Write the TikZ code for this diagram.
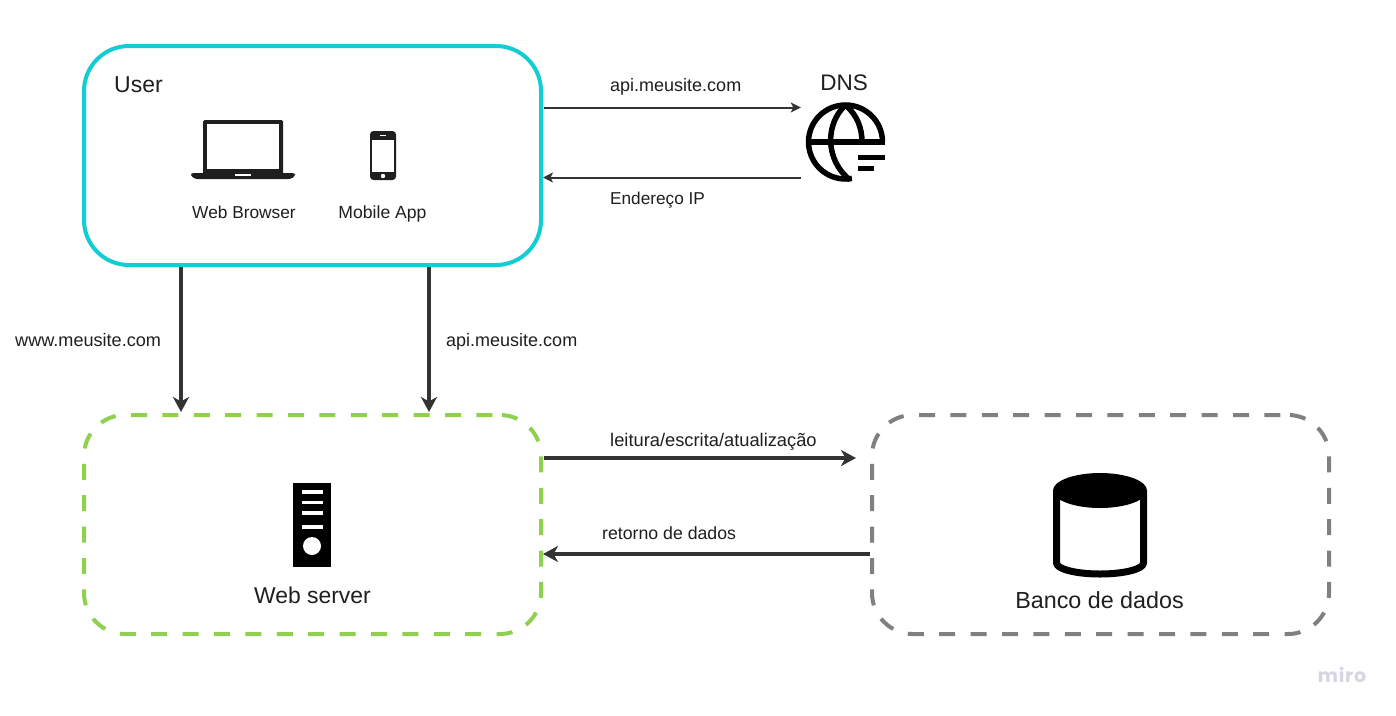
\documentclass[tikz,border=0pt]{standalone}
\usepackage{fontspec}
\setmainfont{Liberation Sans}
\newfontfamily\mirofont[LetterSpace=4]{Poppins}
\usetikzlibrary{arrows.meta}
\definecolor{ink}{HTML}{333333}
\definecolor{txt}{HTML}{1F1F1F}
\definecolor{cyanb}{HTML}{12CDD4}
\definecolor{greenb}{HTML}{8FD14F}
\definecolor{greyb}{HTML}{808080}
\definecolor{mirog}{HTML}{D5D6E2}
\newcommand{\fsz}[1]{\fontsize{#1pt}{#1pt}\selectfont}
\tikzset{
  x=1pt,y=-1pt,
  box/.style={rectangle,rounded corners=45pt,minimum width=457pt,minimum height=219pt,line width=4pt,inner sep=0pt},
  dashbox/.style={box,rounded corners=41pt,dash pattern=on 16pt off 15.4pt,dash phase=23.8pt},
  ghost/.style={rectangle,inner sep=0pt,minimum width=88pt,minimum height=110pt},
  thin arr/.style={draw=ink,line width=2pt,-{Stealth[length=10pt,width=10pt,inset=2.5pt]}},
  thick arr/.style={draw=ink,line width=3.6pt,-{Stealth[length=15pt,width=16pt,inset=4.5pt]}},
  lab/.style={anchor=base west,inner sep=0pt,text=txt},
  labc/.style={lab,anchor=base},
  big/.style={anchor=base,inner sep=0pt,text=txt},
}
\begin{document}
\begin{tikzpicture}
\useasboundingbox (0,0) rectangle (1396,715);
\fill[white] (0,0) rectangle (1396,715);

% containers
\node[box,draw=cyanb] (user) at (312.5,155.5) {};
\node[dashbox,draw=greenb] (web) at (312.5,524.5) {};
\node[dashbox,draw=greyb] (db) at (1100.5,524.5) {};
\node[ghost] (dns) at (845,125) {};

% connector rails
\coordinate (r1) at (181,0);
\coordinate (r2) at (429,0);
\coordinate (h1) at (0,107.5);
\coordinate (h2) at (0,177.5);
\coordinate (h3) at (0,458);
\coordinate (h4) at (0,554);

% connectors
\draw[thin arr] ([xshift=1pt]user.east |- h1) -- (dns.west |- h1);
\draw[thin arr] (dns.west |- h2) -- ([xshift=0pt]user.east |- h2);
\draw[thick arr] (user.south -| r1) -- ([yshift=1pt]web.north -| r1);
\draw[thick arr] (user.south -| r2) -- ([yshift=1pt]web.north -| r2);
\draw[thick arr] ([xshift=1pt]web.east |- h3) -- ([xshift=-14pt]db.west |- h3);
\draw[thick arr] (db.west |- h4) -- (web.east |- h4);

% texts
\node[big,anchor=base west,font=\fsz{23}] (tuser) at (114,92) {User};
\node[big,font=\fsz{22.5}] (tdns) at (844,90) {DNS};
\node[lab,font=\fsz{18}] (t1) at (610,91) {api.meusite.com};
\node[lab,font=\fsz{17.2}] (t2) at (610,204) {Endereço IP};
\node[labc,font=\fsz{17.3}] (t3) at (244,218) {Web Browser};
\node[labc,font=\fsz{17.6}] (t4) at (382.5,218) {Mobile App};
\node[lab,font=\fsz{18.1}] (t5) at (15,346) {www.meusite.com};
\node[lab,font=\fsz{18}] (t6) at (446,346) {api.meusite.com};
\node[lab,font=\fsz{18.3}] (t7) at (610,446) {leitura/escrita/atualização};
\node[lab,font=\fsz{17.7}] (t8) at (602,539) {retorno de dados};
\node[big,font=\fsz{22.9}] (t9) at (312.5,603) {Web server};
\node[big,font=\fsz{23.3}] (t10) at (1099.5,608) {Banco de dados};
\node[anchor=base,inner sep=0pt,text=mirog,font=\fsz{19}\mirofont\bfseries] (miro) at (1342,682) {miro};

% laptop
\fill[txt,rounded corners=1.5pt] (203,120) rectangle (283,175);
\fill[white] (207,124) rectangle (279,169);
\fill[txt,rounded corners=2.5pt] (191,173) -- (295,173) -- (295,176) -- (291,179) -- (195,179) -- (191,176) -- cycle;
\fill[white] (235,174.2) rectangle (251,175.6);

% phone
\fill[txt,rounded corners=3.5pt] (370,131) rectangle (396,180);
\fill[white] (372.3,140) rectangle (394,172);
\fill[white] (380,134.8) rectangle (386,136);
\fill[white] (383,176) circle[radius=2.2];

% globe
\begin{scope}[black,line width=5.5pt]
\draw (882.5,142) arc[start angle=0,end angle=-280,radius=37];
\draw (807,142) -- (885,142);
\draw (845.5,105) .. controls (825,124) and (825,160) .. (850,180);
\draw (845.5,105) .. controls (857,115) and (862,128) .. (862,142);
\end{scope}
\fill[black] (858,155) rectangle (885,160);
\fill[black] (858,166) rectangle (874,171);

% server
\fill[black] (293,483) rectangle (331,567);
\foreach \yy in {492,502.5,513,527}
  \fill[white] (302,\yy-1.7) rectangle (322.5,\yy+1.7);
\fill[white] (312,546) circle[radius=9];

% database
\draw[black,line width=7pt,line join=round] (1056.5,490) -- (1056.5,563) arc[start angle=180,end angle=0,x radius=43.5,y radius=11] -- (1143.5,490);
\fill[black] (1100,490.5) ellipse[x radius=47,y radius=17.5];
\end{tikzpicture}
\end{document}
